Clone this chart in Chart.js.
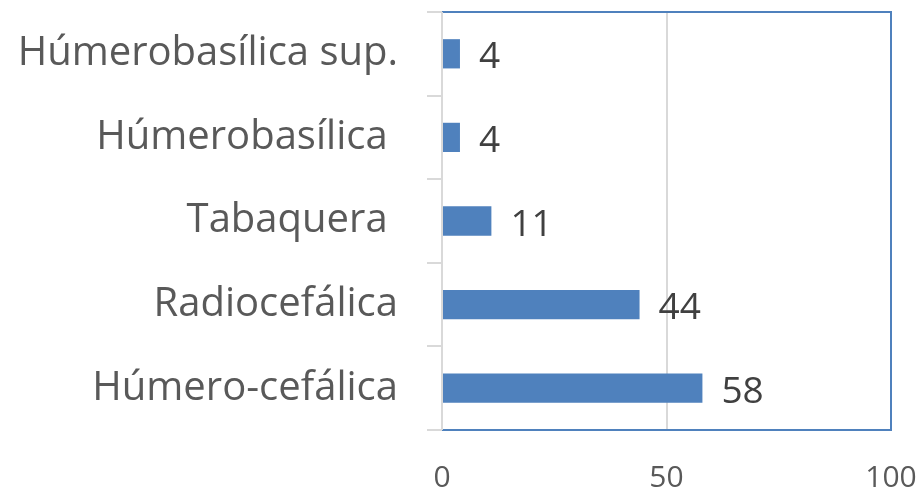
<!DOCTYPE html>
<html>
<head>
<meta charset="utf-8">
<script src="https://cdn.jsdelivr.net/npm/chart.js@4.4.0/dist/chart.umd.min.js"></script>
<style>
  html, body { margin: 0; padding: 0; background: #fff; }
  #wrap { width: 919px; height: 490px; }
</style>
</head>
<body>
<div id="wrap"><canvas id="chart"></canvas></div>
<script>
// Datos
const categories = ['Húmerobasílica sup.', 'Húmerobasílica ', 'Tabaquera ', 'Radiocefálica', 'Húmero-cefálica'];
const values = [4, 4, 11, 44, 58];
const xTicks = [0, 50, 100];

const FONT = '"Open Sans", "Noto Sans", sans-serif';

// borde azul del área de trazado + eje vertical gris
const frame = {
    id: 'frame',
    afterDatasetsDraw(chart) {
        const { ctx, chartArea: a } = chart;
        ctx.save();
        ctx.lineWidth = 2;
        ctx.strokeStyle = '#4f81bd';
        ctx.beginPath();
        ctx.moveTo(a.left, a.top);
        ctx.lineTo(a.right, a.top);
        ctx.lineTo(a.right, a.bottom);
        ctx.lineTo(a.left, a.bottom);
        ctx.stroke();
        ctx.strokeStyle = '#d9d9d9';
        ctx.beginPath();
        ctx.moveTo(a.left, a.top);
        ctx.lineTo(a.left, a.bottom);
        ctx.stroke();
        ctx.restore();
    }
};

// etiquetas de valor a la derecha de cada barra
const valueLabels = {
    id: 'valueLabels',
    afterDatasetsDraw(chart) {
        const { ctx } = chart;
        const meta = chart.getDatasetMeta(0);
        ctx.save();
        ctx.font = '37px ' + FONT;
        ctx.fillStyle = '#404040';
        ctx.textAlign = 'left';
        ctx.textBaseline = 'middle';
        meta.data.forEach((bar, i) => {
            ctx.fillText(values[i], bar.x + 19, bar.y + 4);
        });
        ctx.restore();
    }
};

const ctx = document.getElementById('chart').getContext('2d');
new Chart(ctx, {
    type: 'bar',
    data: {
        labels: categories,
        datasets: [{
            data: values,
            backgroundColor: '#4f81bd',
            barPercentage: 0.7,
            categoryPercentage: 0.5
        }]
    },
    options: {
        indexAxis: 'y',
        responsive: true,
        maintainAspectRatio: false,
        animation: false,
        layout: { padding: { top: 12, right: 28, left: 0, bottom: 0 } },
        plugins: {
            legend: { display: false },
            tooltip: { enabled: false }
        },
        scales: {
            x: {
                min: 0,
                max: 100,
                afterBuildTicks: s => { s.ticks = xTicks.map(v => ({ value: v })); },
                border: { display: false },
                grid: {
                    color: ctx => ctx.tick && ctx.tick.value === 50 ? '#d9d9d9' : 'rgba(0,0,0,0)',
                    lineWidth: 2,
                    tickLength: 0
                },
                ticks: {
                    color: '#595959',
                    font: { family: FONT, size: 30 },
                    padding: 30
                },
                afterFit: s => { s.height = 60; s.paddingLeft = 0; s.paddingRight = 0; }
            },
            y: {
                border: { display: false },
                grid: {
                    drawOnChartArea: false,
                    color: '#d9d9d9',
                    lineWidth: 2,
                    tickLength: 15
                },
                ticks: {
                    color: '#595959',
                    font: { family: FONT, size: 40, lineHeight: 1.05 },
                    padding: 29
                },
                afterFit: s => { s.width = 442; s.paddingTop = 0; s.paddingBottom = 0; }
            }
        }
    },
    plugins: [frame, valueLabels]
});
</script>
</body>
</html>
